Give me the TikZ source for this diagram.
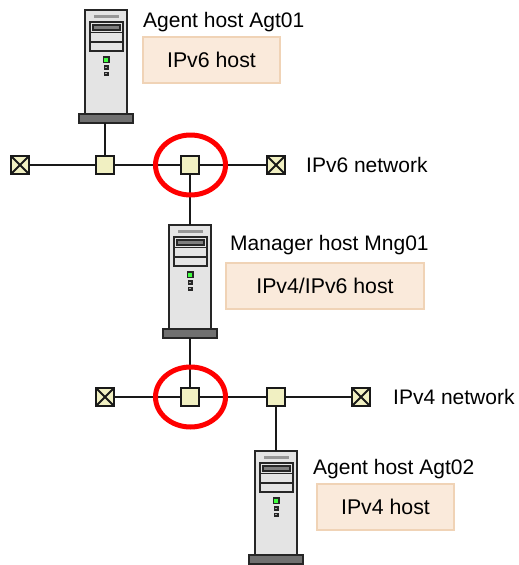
\documentclass[tikz,border=0pt]{standalone}
\usepackage{fontspec}
\setmainfont{Liberation Sans}
\definecolor{sw}{HTML}{F1F0C2}
\definecolor{note}{HTML}{FAEADB}
\definecolor{noteline}{HTML}{F0D3B6}
\definecolor{body}{HTML}{E4E4E4}
\definecolor{base}{HTML}{707070}
\definecolor{slot}{HTML}{A8A8A8}
\tikzset{
  x=1pt,y=-1pt,
  conn/.style={line width=2pt,draw=black!90},
  swbox/.style={draw=black!90,line width=2pt,fill=sw,minimum size=18pt,inner sep=0pt,outer sep=0pt},
  termbox/.style={swbox,path picture={\draw[line width=2pt,black!90] (path picture bounding box.north west)--(path picture bounding box.south east) (path picture bounding box.north east)--(path picture bounding box.south west);}},
  label/.style={font=\fontsize{21pt}{24pt}\selectfont,anchor=west,inner sep=0pt},
  notebox/.style={draw=noteline,line width=1.5pt,fill=note,font=\fontsize{21.3pt}{24pt}\selectfont,inner sep=0pt,outer sep=0pt},
  ring/.style={draw=red,line width=5pt,ellipse,minimum width=70pt,minimum height=60pt,inner sep=0pt},
  pics/server/.style={code={
    \draw[line width=2pt,draw=black!85,fill=body] (0,0) rectangle (42,104);
    \draw[line width=2pt,draw=black!85,fill=base] (-6,104) rectangle (48,113);
    \draw[line width=2.2pt,draw=black!10!slot] (9,6.5) -- (34,6.5);
    \draw[line width=1.6pt,draw=black!85,fill=body] (5,12) rectangle (38,41);
    \draw[line width=1.6pt,draw=black!85] (5,22.5) -- (38,22.5) (5,32) -- (38,32);
    \draw[line width=1.6pt,draw=black!85,fill=slot!75!black] (8,15) rectangle (35,20);
    \draw[line width=1.6pt,draw=black!85,fill=green!75!white] (18.5,47) rectangle (24,52.5);
    \draw[line width=1.6pt,draw=black!85,fill=slot] (19.5,56) rectangle (23,59);
    \draw[line width=1.6pt,draw=black!85,fill=slot] (19.5,62.5) rectangle (23,65);
  }}
}
\usetikzlibrary{shapes.geometric}
\begin{document}
\begin{tikzpicture}
\useasboundingbox (0,0) rectangle (519,565);
% servers
\pic at (85,10) {server};
\pic at (169,225) {server};
\pic at (255,451) {server};
\coordinate (s1) at (105,123);
\coordinate (s2t) at (190,225);
\coordinate (s2b) at (190,338);
\coordinate (s3) at (276,451);
% network 1
\node[termbox] (a1) at (20,165) {};
\node[swbox] (a2) at (105,165) {};
\node[swbox] (a3) at (190,165) {};
\node[termbox] (a4) at (276,165) {};
% network 2
\node[termbox] (b1) at (105,397) {};
\node[swbox] (b2) at (190,397) {};
\node[swbox] (b3) at (276,397) {};
\node[termbox] (b4) at (361,397) {};
\draw[conn] (a1)--(a2) (a2)--(a3) (a3)--(a4) (s1)--(a2) (a3)--(s2t);
\draw[conn] (b1)--(b2) (b2)--(b3) (b3)--(b4) (s2b)--(b2) (b3)--(s3);
% rings
\node[ring] (r1) at (190.5,165) {};
\node[ring] (r2) at (190.5,397) {};
% labels
\node[label] (t1) at (143,22.5) {Agent host Agt01};
\node[label] (t2) at (230,245.5) {Manager host Mng01};
\node[label] (t3) at (313,469.5) {Agent host Agt02};
\node[label] (t4) at (306,165) {IPv6 network};
\node[label] (t5) at (393,397) {IPv4 network};
\node[notebox,minimum width=137pt,minimum height=46pt] (n1) at (211.5,60) {IPv6 host};
\node[notebox,minimum width=198pt,minimum height=46pt] (n2) at (325,286) {IPv4/IPv6 host};
\node[notebox,minimum width=137pt,minimum height=46pt] (n3) at (385.5,507) {IPv4 host};
\end{tikzpicture}
\end{document}
